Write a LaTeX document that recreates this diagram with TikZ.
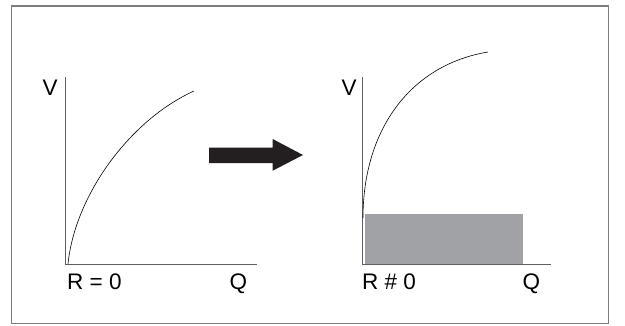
\documentclass[tikz,border=0pt]{standalone}
\usepackage{fontspec}
\setmainfont{Liberation Sans}
\usepackage{tikz}
\definecolor{boxgray}{RGB}{160,162,166}
\definecolor{axisgray}{RGB}{95,95,95}
\definecolor{framegray}{RGB}{125,125,125}
\definecolor{arrowblack}{RGB}{35,31,32}

\begin{document}
\begin{tikzpicture}[x=1pt,y=-1pt,
  lbl/.style={inner sep=0pt,anchor=base west,font=\fontsize{22.5}{22.5}\selectfont},
  axis/.style={draw=axisgray,line width=0.9pt},
  curve/.style={line width=0.6pt}]
\useasboundingbox (0,0) rectangle (625,325);
\draw[framegray,line width=1.2pt] (11.5,6) rectangle (608.5,323.5);
% left graph, R = 0
\coordinate (o1) at (65.7,264);
\draw[axis] (65.7,77) -- (o1) -- (257,264);
\draw[curve] (68,264) .. controls (75,195) and (130,120) .. (194,91);
\node[lbl] (v1) at (42.5,95) {V};
\node[lbl] (r1) at (67,289) {R = 0};
\node[lbl] (q1) at (229.5,289) {Q};
% big arrow
\fill[arrowblack] (209,147.7) -- (272.7,147.7) -- (272.7,139) -- (303,155)
  -- (272.7,170.7) -- (272.7,163) -- (209,163) -- cycle;
% right graph, R # 0
\coordinate (o2) at (362.3,264);
\fill[boxgray] (365,213.7) rectangle (522.7,264);
\draw[axis] (362.3,77) -- (o2) -- (550.5,264);
\draw[curve] (363,218) .. controls (363,130) and (410,65) .. (488,52);
\node[lbl] (v2) at (341.5,95) {V};
\node[lbl] (r2) at (362,289) {R \# 0};
\node[lbl] (q2) at (522.5,289) {Q};
\end{tikzpicture}
\end{document}
